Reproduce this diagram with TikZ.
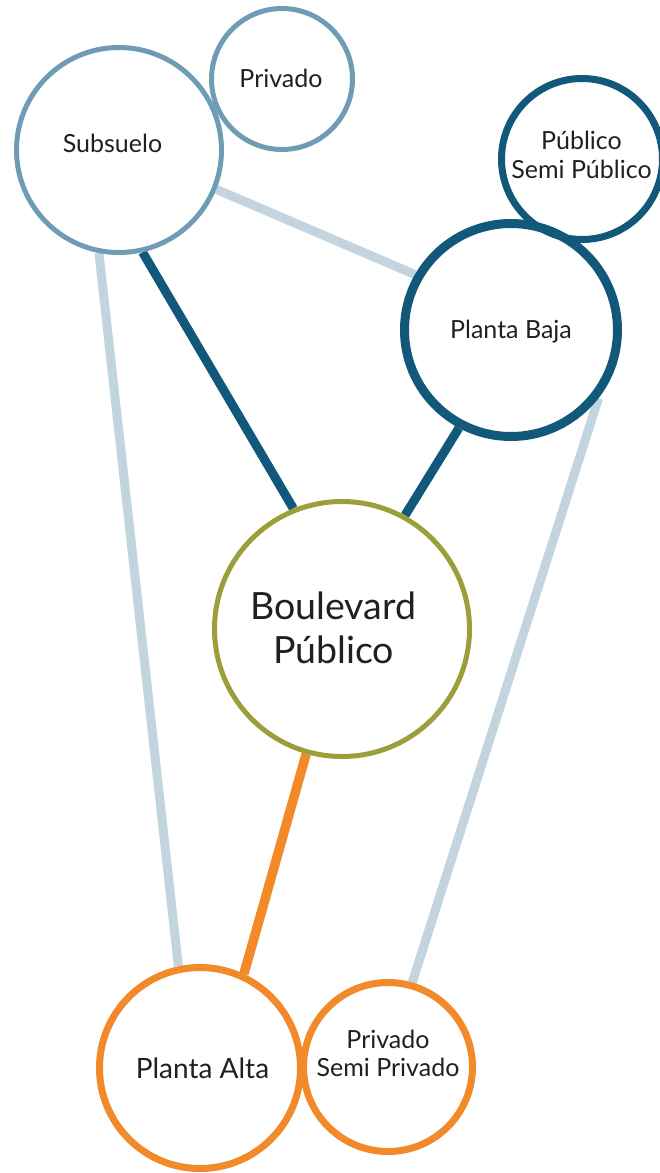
\documentclass[tikz,border=0pt]{standalone}
\usepackage{fontspec}
\setmainfont{Lato}
\usepackage{xcolor}
\usepackage{tikz}
\usetikzlibrary{
    positioning,
    backgrounds,
}
\definecolor{steelblue}{HTML}{6E9CB5}
\definecolor{deepblue}{HTML}{12587A}
\definecolor{paleblue}{HTML}{C2D5DF}
\definecolor{boulevardgreen}{HTML}{9C9E3A}
\definecolor{warmorange}{HTML}{F28A2A}
\definecolor{inktext}{HTML}{231F20}
\tikzset{
    % Zone styles
    zone/.style={circle, draw, inner sep=0pt},
    basement zone/.style={zone, steelblue, line width=5pt},
    ground zone/.style={zone, deepblue},
    public zone/.style={zone, boulevardgreen, line width=5pt},
    upper zone/.style={zone, warmorange, line width=7pt},
    % Link styles
    link/.style={line width=9pt},
    weak link/.style={link, paleblue},
    strong link/.style={link, deepblue},
    upper link/.style={link, warmorange, line width=9.5pt},
    % Text styles
    tag/.style={font=\fontsize{25}{28.5}\selectfont, text=inktext, align=center},
    big tag/.style={tag, font=\fontsize{37.5}{44}\selectfont},
}

\begin{document}
\begin{tikzpicture}[x=1pt, y=-1pt]
    \useasboundingbox (0,0) rectangle (659,1173);

    % Zones
    \node[basement zone, minimum size=205pt] (subsuelo) at (119,150) {};
    \node[basement zone, minimum size=141pt] (privado) at (282,79) {};
    \node[ground zone, line width=7pt, minimum size=161pt] (publico) at (582,159) {};
    \node[ground zone, line width=9pt, minimum size=213pt] (baja) at (511,330) {};
    \node[public zone, minimum size=255pt] (boulevard) at (342,629) {};
    \node[upper zone, minimum size=201pt] (alta) at (200,1068) {};
    \node[upper zone, minimum size=169pt] (semiprivado) at (388,1067) {};

    % Labels
    \node[tag] (subsuelo text) at (112.5,143) {Subsuelo};
    \node[tag] (privado text) at (281,78) {Privado};
    \node[tag] (publico text) at (581.5,155) {Público\\Semi Público};
    \node[tag] (baja text) at (511,332) {Planta Baja};
    \node[big tag] (boulevard text) at (333.5,627.5) {Boulevard\\Público};
    \node[tag, font=\fontsize{28}{32}\selectfont] (alta text) at (202.5,1068.5) {Planta Alta};
    \node[tag] (semiprivado text) at (388,1053.5) {Privado\\Semi Privado};

    % Links
    \begin{scope}[on background layer]
        \draw[weak link] (subsuelo.-22) -- (baja.150);
        \draw[weak link] (subsuelo.-101.6) -- (alta.102.4);
        \draw[weak link] (baja.-38.6) -- (semiprivado.74);
        \draw[strong link] (subsuelo.-77) -- (boulevard.112.7);
        \draw[strong link] (baja.-118.4) -- (boulevard.61);
        \draw[upper link] (boulevard.-106) -- (alta.65);
    \end{scope}
\end{tikzpicture}
\end{document}
